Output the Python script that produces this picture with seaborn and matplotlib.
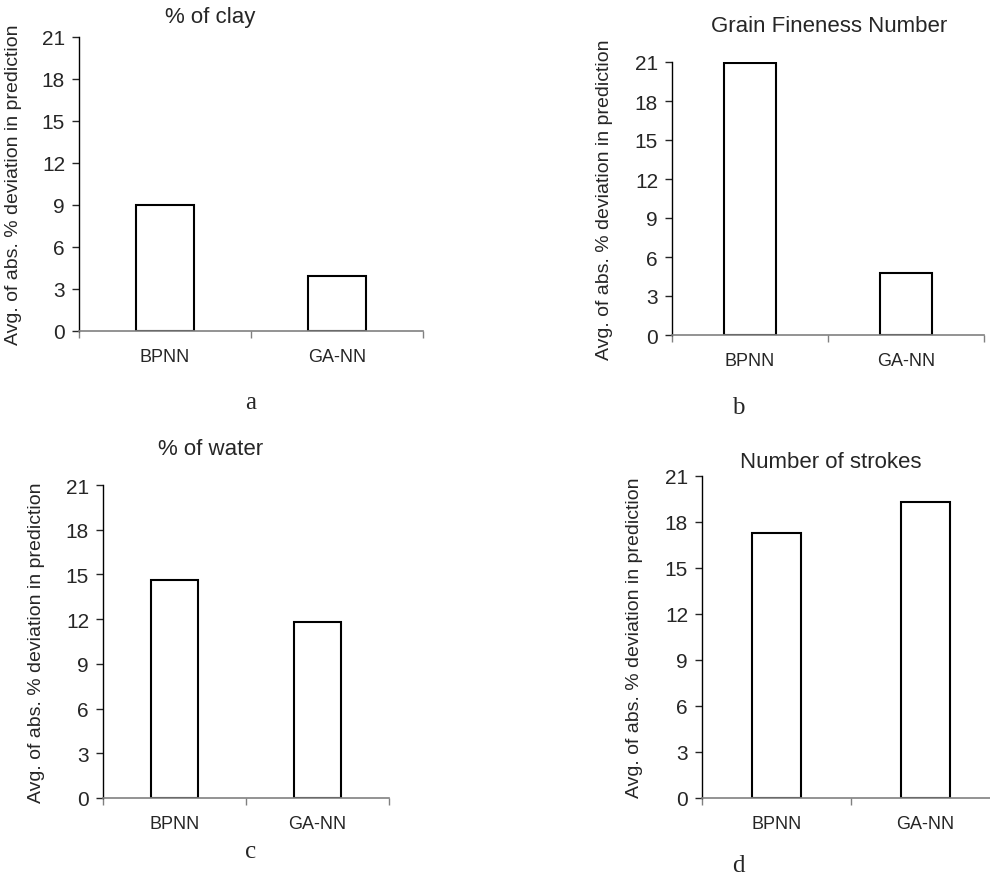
import matplotlib
matplotlib.use("Agg")
import matplotlib.pyplot as plt
import seaborn as sns
import pandas as pd

# bar chart values
models = ["BPNN", "GA-NN"]
clay = [9.0, 3.9]
gfn = [20.9, 4.8]
water = [14.65, 11.8]
strokes = [17.3, 19.3]

titles = ["% of clay", "Grain Fineness Number", "% of water", "Number of strokes"]
letters = ["a", "b", "c", "d"]
yticks = [0, 3, 6, 9, 12, 15, 18, 21]
ylab = "Avg. of abs. % deviation in prediction"

sns.set_style("white")
plt.rcParams["font.family"] = ["Liberation Sans", "DejaVu Sans"]

W, H = 990, 879
fig = plt.figure(figsize=(W / 100, H / 100), dpi=100)

# axes boxes in pixels: left, right, top, bottom
boxes = [(79, 423, 38, 332), (672, 984, 63, 336),
         (103, 389, 486, 799), (702, 1000, 477, 799)]
title_pos = [(210, 18), (829, 27), (211, 450), (831, 462)]
letter_pos = [(251, 403), (738, 408), (251, 852), (738, 866)]
ylab_x = [22, 613, 45, 643]

for i, vals in enumerate([clay, gfn, water, strokes]):
    l, r, t, b = boxes[i]
    ax = fig.add_axes([l / W, 1 - b / H, (r - l) / W, (b - t) / H])
    df = pd.DataFrame({"model": models, "val": vals})
    sns.barplot(data=df, x="model", y="val", ax=ax, color="white",
                edgecolor="black", linewidth=1.5, width=0.335)
    ax.set_ylim(0, 21)
    ax.set_xlim(-0.5, 1.5)
    ax.set_yticks(yticks)
    ax.set_xticks([-0.5, 0.5, 1.5], minor=True)
    ax.tick_params(axis="x", which="major", length=0, pad=12, labelsize=13)
    ax.tick_params(axis="x", which="minor", length=5, width=1, color="#808080",
                   direction="out", bottom=True)
    ax.tick_params(axis="y", length=5, width=1, direction="out", left=True,
                   pad=5, labelsize=15)
    for s in ["top", "right"]:
        ax.spines[s].set_visible(False)
    ax.spines["left"].set_color("black")
    ax.spines["left"].set_linewidth(1)
    ax.spines["bottom"].set_color("#808080")
    ax.spines["bottom"].set_linewidth(1.2)
    ax.set_xlabel("")
    ax.set_ylabel(ylab, fontsize=14)
    ax.yaxis.set_label_coords((ylab_x[i] - l) / (r - l), 0.5)
    ax.patch.set_alpha(0)

    tx, ty = title_pos[i]
    fig.text(tx / W, 1 - ty / H, titles[i], ha="center", va="center", fontsize=16)
    lx, ly = letter_pos[i]
    fig.text(lx / W, 1 - ly / H, letters[i], ha="center", va="center",
             fontsize=18, family=["Liberation Serif", "DejaVu Serif"])

fig.savefig("out.png", dpi=100)
